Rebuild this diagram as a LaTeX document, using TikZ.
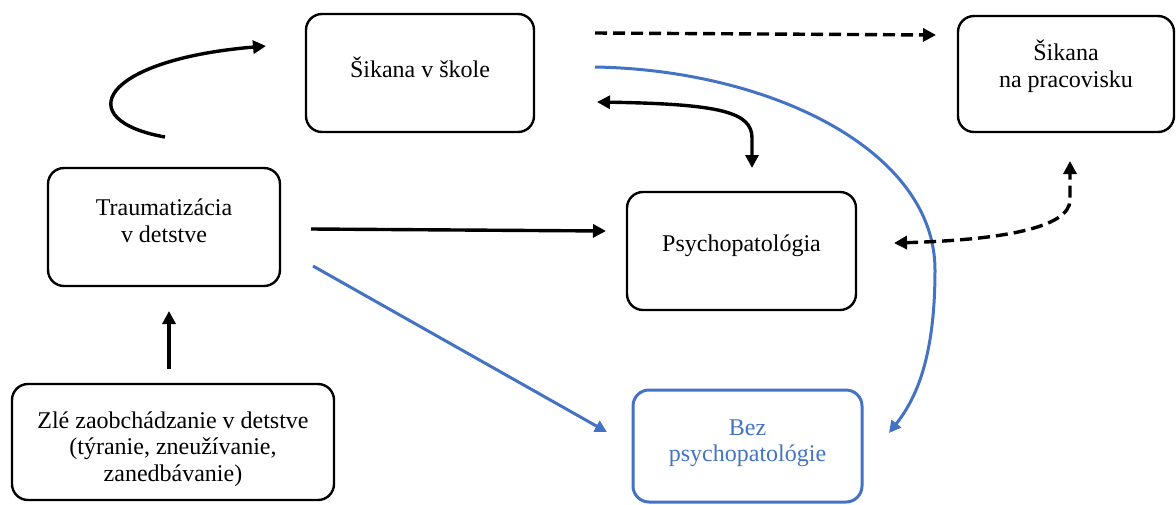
\documentclass[tikz,border=0pt]{standalone}
\usepackage{fontspec}
\setmainfont{Liberation Serif}
\usetikzlibrary{arrows.meta}
\definecolor{myblue}{HTML}{4472C4}
\tikzset{
  box/.style={draw=black, line width=2.4pt, rounded corners=16pt, inner sep=0pt},
  bluebox/.style={box, draw=myblue, line width=3pt},
  lbl/.style={align=center, inner sep=0pt, font=\fontsize{24}{26.5}\selectfont},
  blbl/.style={lbl, text=myblue},
  conn/.style={line width=3.4pt, -{Triangle[length=13pt,width=13pt]}},
  bconn/.style={line width=3pt, draw=myblue, -{Triangle[length=12pt,width=12pt]}, myblue},
  dconn/.style={conn, dash pattern=on 12pt off 6pt},
}
\begin{document}
\begin{tikzpicture}[x=1pt,y=-1pt]
\useasboundingbox (0,0) rectangle (1176,504);
\node[box, minimum width=228pt, minimum height=118pt,
  label={[lbl, yshift=6pt]center:Šikana v škole}] (skola) at (420,73) {};
\node[box, minimum width=216pt, minimum height=116pt,
  label={[lbl, yshift=8pt]center:Šikana\\na pracovisku}] (praca) at (1066,74) {};
\node[box, minimum width=232pt, minimum height=118pt,
  label={[lbl, yshift=6pt]center:Traumatizácia\\v detstve}] (trauma) at (164,227) {};
\node[box, minimum width=229pt, minimum height=118pt,
  label={[lbl, yshift=5pt]center:Psychopatológia}] (psycho) at (741.5,251) {};
\node[box, minimum width=322pt, minimum height=116pt,
  label={[lbl, yshift=-7pt]center:Zlé zaobchádzanie v detstve\\(týranie, zneužívanie,\\zanedbávanie)}] (zle) at (173,442) {};
\node[bluebox, minimum width=229pt, minimum height=112pt,
  label={[blbl, yshift=3pt]center:Bez\\psychopatológie}] (bez) at (747.5,446) {};

% endpoints
\coordinate (a1s) at (165,137);
\coordinate (a1e) at (266,46);
\coordinate (a2s) at (595,33);
\coordinate (a2e) at (936,35);
\coordinate (a3s) at (595,67);
\coordinate (a3e) at (889,433);
\coordinate (a4s) at (597,102);
\coordinate (a4e) at (752,168);
\coordinate (a5s) at (311,229);
\coordinate (a5e) at (606,231);
\coordinate (a6s) at (313,266);
\coordinate (a6e) at (607,432);
\coordinate (a7s) at (894,243);
\coordinate (a7e) at (1070,161);
\coordinate (a8s) at (169,369);
\coordinate (a8e) at (169,311);

\draw[conn] (a1s) .. controls (70,120) and (100,60) .. (a1e);
\draw[dconn] (a2s) -- (a2e);
\draw[bconn] (a3s) .. controls (770,70) and (935,150) .. (935,270) .. controls (935,360) and (915,400) .. (a3e);
\draw[conn, {Triangle[length=13pt,width=13pt]}-{Triangle[length=13pt,width=13pt]}] (a4s) .. controls (720,104) and (752,112) .. (752,138) -- (a4e);
\draw[conn] (a5s) -- (a5e);
\draw[bconn] (a6s) -- (a6e);
\draw[dconn, {Triangle[length=13pt,width=13pt]}-{Triangle[length=13pt,width=13pt]}] (a7s) .. controls (1000,240) and (1070,228) .. (1070,200) -- (a7e);
\draw[conn] (a8s) -- (a8e);
\end{tikzpicture}
\end{document}
